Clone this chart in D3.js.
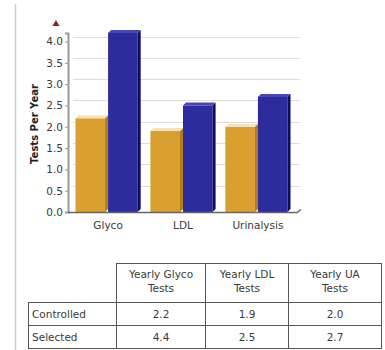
<!DOCTYPE html>
<html>
<head>
<meta charset="utf-8">
<script src="https://cdn.jsdelivr.net/npm/d3@7"></script>
<style>
  html, body { margin: 0; padding: 0; background: #fff; }
  svg { display: block; font-family: "DejaVu Sans", Verdana, sans-serif; }
</style>
</head>
<body>
<svg id="chart" width="385" height="350"></svg>
<script>
// Yearly test counts per group
const categories = ["Glyco", "LDL", "Urinalysis"];
const seriesNames = ["Controlled", "Selected"];
const controlled = [2.2, 1.9, 2.0];
const selected = [4.4, 2.5, 2.7];
const yTicks = [0, 0.5, 1.0, 1.5, 2.0, 2.5, 3.0, 3.5, 4.0];
const tableHeaders = [["Yearly Glyco", "Tests"], ["Yearly LDL", "Tests"], ["Yearly UA", "Tests"]];

const svg = d3.select("#chart");
const colors = { Controlled: "#d9a030", Selected: "#2c2c9c" };
const sideColors = { Controlled: "#b07c1c", Selected: "#0c0c62" };
const topColors = { Controlled: "#f7e2b2", Selected: "#4646b6" };
const textColor = "#3a3a3a";

const yMax = 4.2;
const depth = 5;      // back wall offset
const barDepth = 3;   // bar side thickness

const x0 = d3.scaleBand().domain(categories).range([68, 298]).paddingInner(0.13).paddingOuter(0.1);
const x1 = d3.scaleBand().domain(seriesNames).range([0, x0.bandwidth()]);
const y = d3.scaleLinear().domain([0, yMax]).range([212, 33]);

// page side rule
svg.append("line").attr("x1", 15.5).attr("x2", 15.5).attr("y1", 4).attr("y2", 350)
  .attr("stroke", "#cdcdcd").attr("stroke-width", 1.5);

// back wall gridlines
svg.append("g").selectAll("line").data(yTicks.filter(d => d > 0)).join("line")
  .attr("x1", 68 + depth).attr("x2", 300)
  .attr("y1", d => Math.round(y(d) - depth) + 0.5).attr("y2", d => Math.round(y(d) - depth) + 0.5)
  .attr("stroke", "#dcdcdc");

// bars (values past the axis top are clipped)
const rows = categories.map((c, i) => ({ cat: c, vals: [
  { s: "Controlled", v: controlled[i] },
  { s: "Selected", v: selected[i] }
]}));

const groups = svg.append("g").selectAll("g").data(rows).join("g")
  .attr("transform", d => `translate(${x0(d.cat)},0)`);

groups.each(function(d) {
  const g = d3.select(this);
  d.vals.forEach(b => {
    const bx = x1(b.s), bw = x1.bandwidth();
    const top = y(Math.min(b.v, yMax));
    const bot = y(0);
    // front face
    g.append("rect").attr("x", bx).attr("y", top).attr("width", bw - barDepth).attr("height", bot - top)
      .attr("fill", colors[b.s]);
    // side face
    g.append("path")
      .attr("d", `M${bx + bw - barDepth},${top} L${bx + bw},${top - barDepth} L${bx + bw},${bot - barDepth} L${bx + bw - barDepth},${bot} Z`)
      .attr("fill", sideColors[b.s]);
    // top face
    g.append("path")
      .attr("d", `M${bx},${top} L${bx + barDepth},${top - barDepth} L${bx + bw},${top - barDepth} L${bx + bw - barDepth},${top} Z`)
      .attr("fill", topColors[b.s]);
  });
});

// y axis
const yAxis = svg.append("g").attr("transform", "translate(68,0)")
  .call(d3.axisLeft(y).tickValues(yTicks).tickFormat(d3.format(".1f")).tickSize(3).tickPadding(2));
yAxis.select(".domain").attr("stroke", "#999").attr("stroke-width", 2);
yAxis.selectAll(".tick line").attr("stroke", "#999");
yAxis.selectAll(".tick text").attr("fill", textColor).style("font-size", "10.5px")
  .style("font-family", "'DejaVu Sans', Verdana, sans-serif");

// floor line
svg.append("path").attr("d", `M68,212.5 L297,212.5 L301,209.5`).attr("fill", "none")
  .attr("stroke", "#666").attr("stroke-width", 1.5);

// x labels
const xAxis = svg.append("g").attr("transform", "translate(0,212)")
  .call(d3.axisBottom(x0).tickSize(0).tickPadding(10));
xAxis.select(".domain").remove();
xAxis.selectAll(".tick text").attr("fill", textColor).style("font-size", "10.5px")
  .style("font-family", "'DejaVu Sans', Verdana, sans-serif");

// axis title
svg.append("text").attr("transform", "translate(38,124) rotate(-90)")
  .attr("text-anchor", "middle").attr("font-weight", "bold").attr("font-size", 10).attr("fill", "#222")
  .text("Tests Per Year");

// off-scale marker
svg.append("path").attr("d", d3.symbol(d3.symbolTriangle, 22)()).attr("transform", "translate(56,24)")
  .attr("fill", "#9a1f1f");

// data table
const colX = [28, 116, 205, 288, 381];
const rowY = [263, 302, 325, 348];
const tg = svg.append("g").attr("font-size", 10.5).attr("fill", textColor);
const border = "#555";

// header cells
tableHeaders.forEach((h, j) => {
  tg.append("rect").attr("x", colX[j + 1] + 0.5).attr("y", rowY[0] + 0.5)
    .attr("width", colX[j + 2] - colX[j + 1]).attr("height", rowY[1] - rowY[0])
    .attr("fill", "#fff").attr("stroke", border);
  const t = tg.append("text").attr("text-anchor", "middle")
    .attr("x", (colX[j + 1] + colX[j + 2]) / 2 + 0.5);
  h.forEach((line, k) => t.append("tspan").attr("x", (colX[j + 1] + colX[j + 2]) / 2 + 0.5)
    .attr("y", rowY[0] + 15 + k * 14).text(line));
});

// body rows
[controlled, selected].forEach((vals, i) => {
  const yTop = rowY[i + 1], yBot = rowY[i + 2];
  tg.append("rect").attr("x", colX[0] + 0.5).attr("y", yTop + 0.5)
    .attr("width", colX[1] - colX[0]).attr("height", yBot - yTop).attr("fill", "#fff").attr("stroke", border);
  tg.append("text").attr("x", colX[0] + 4).attr("y", yTop + 16).text(seriesNames[i]);
  vals.forEach((v, j) => {
    tg.append("rect").attr("x", colX[j + 1] + 0.5).attr("y", yTop + 0.5)
      .attr("width", colX[j + 2] - colX[j + 1]).attr("height", yBot - yTop).attr("fill", "#fff").attr("stroke", border);
    tg.append("text").attr("text-anchor", "middle").attr("x", (colX[j + 1] + colX[j + 2]) / 2 + 0.5)
      .attr("y", yTop + 16).text(d3.format(".1f")(v));
  });
});
</script>
</body>
</html>
